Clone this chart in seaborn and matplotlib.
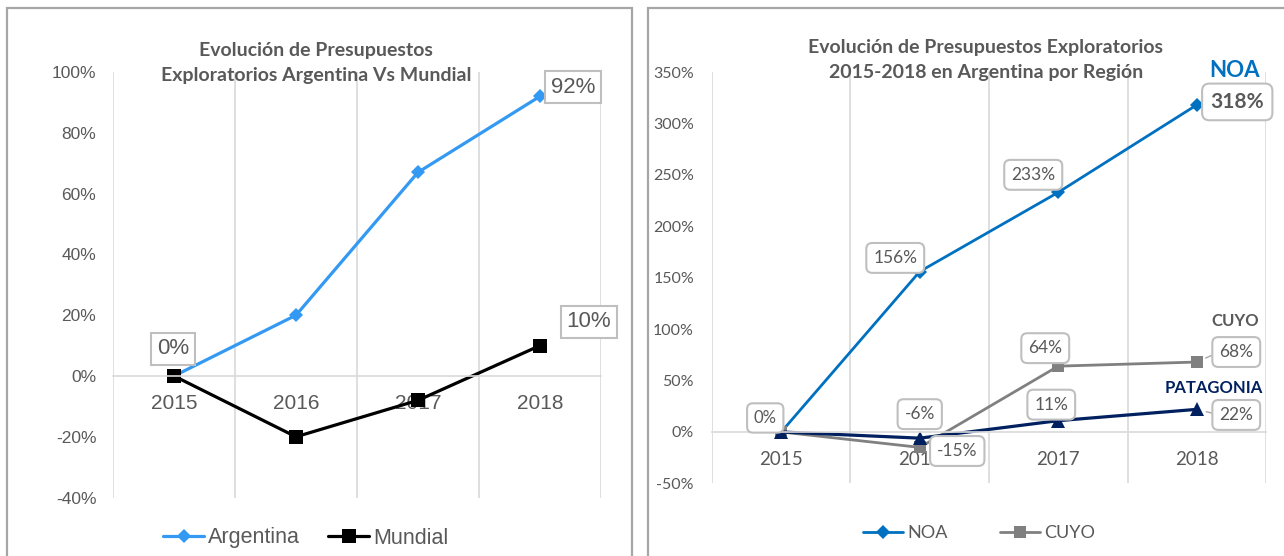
import matplotlib
matplotlib.use("Agg")
import matplotlib.pyplot as plt
from matplotlib.patches import Rectangle
from matplotlib.ticker import FuncFormatter
import seaborn as sns

# ---- data ----
years = ["2015", "2016", "2017", "2018"]

argentina = [0, 20, 67, 92]
mundial = [0, -20, -8, 10]

noa = [0, 156, 233, 318]
cuyo = [0, -15, 64, 68]
patagonia = [0, -6, 11, 22]

left_title = "Evolución de Presupuestos\nExploratorios Argentina Vs Mundial"
right_title = "Evolución de Presupuestos Exploratorios\n2015-2018 en Argentina por Región"

sns.set_theme(style="white")
plt.rcParams["font.family"] = ["Lato", "DejaVu Sans"]

W, H = 1284, 556
fig = plt.figure(figsize=(W / 100, H / 100), dpi=100)

GREY_TXT = "#595959"
GRID = "#D9D9D9"
BOX_EC = "#BFBFBF"


def rect(x0, y0, x1, y1):
    return [x0 / W, 1 - y1 / H, (x1 - x0) / W, (y1 - y0) / H]


# panel frames
for x0, x1 in [(7, 632), (648, 1300)]:
    fig.add_artist(Rectangle((x0 / W, -0.1), (x1 - x0) / W, 1.1 - 8 / H,
                             transform=fig.transFigure, fill=False,
                             ec="#A6A6A6", lw=1.6, zorder=0))


def style_axes(ax, ymin, ymax, ystep, tick_font, tick_size, xfont, xsize, xpad, ypad):
    ax.set_xlim(-0.5, 3.5)
    ax.set_ylim(ymin, ymax)
    ax.set_yticks(range(ymin, ymax + 1, ystep))
    ax.yaxis.set_major_formatter(FuncFormatter(lambda v, p: f"{v:.0f}%"))
    ax.set_xticks([-0.5, 0.5, 1.5, 2.5, 3.5], minor=True)
    ax.grid(False)
    ax.grid(True, axis="x", which="minor", color=GRID, lw=1.2)
    for s in ["left", "right", "top"]:
        ax.spines[s].set_visible(False)
    ax.spines["bottom"].set_position(("data", 0))
    ax.spines["bottom"].set_color(GRID)
    ax.spines["bottom"].set_linewidth(1.2)
    ax.tick_params(axis="both", which="both", length=0)
    ax.tick_params(axis="x", pad=xpad)
    ax.tick_params(axis="y", pad=ypad)
    for t in ax.get_yticklabels():
        t.set_fontfamily(tick_font)
        t.set_fontsize(tick_size)
        t.set_color(GREY_TXT)
    for t in ax.get_xticklabels():
        t.set_fontfamily(xfont)
        t.set_fontsize(xsize)
        t.set_color(GREY_TXT)
    ax.set_xlabel("")
    ax.set_ylabel("")
    ax.set_axisbelow(True)
    ax.patch.set_alpha(0)


def value_label(ax, x, y, text, dx, dy, size, family, weight="normal",
                rounded=True, leader=False):
    box = dict(boxstyle="round,pad=0.4,rounding_size=0.35" if rounded else "square,pad=0.25",
               fc="white", ec=BOX_EC, lw=1.5)
    arrow = None
    if leader:
        arrow = dict(arrowstyle="-", color="#A6A6A6", lw=1, shrinkA=0, shrinkB=7,
                     relpos=(0, 0.5))
    ax.annotate(text, xy=(x, y), xytext=(dx, dy), textcoords="offset pixels",
                ha="center", va="center", fontsize=size, family=family,
                weight=weight, color=GREY_TXT, bbox=box, arrowprops=arrow,
                zorder=10, annotation_clip=False)


# ---------------- left chart ----------------
axL = fig.add_axes(rect(113, 72, 601, 497.6))
sns.lineplot(x=years, y=argentina, ax=axL, color="#3399F3", lw=2.3,
             marker="D", markersize=7, markeredgewidth=0, sort=False)
sns.lineplot(x=years, y=mundial, ax=axL, color="black", lw=2.3,
             marker="s", markersize=9.5, markeredgewidth=0, sort=False)
style_axes(axL, -40, 100, 20, "Liberation Sans", 12.5, "Liberation Sans", 15, 13, 12)

fig.text(316 / W, 1 - 63 / H, left_title, ha="center", va="center", fontsize=14,
         weight="bold", color=GREY_TXT, linespacing=1.55, family="Lato")

LF = "Liberation Sans"
value_label(axL, years[0], argentina[0], "0%", -1, 27, 16, LF, rounded=False)
value_label(axL, years[3], argentina[3], "92%", 33, 9, 16, LF, rounded=False)
value_label(axL, years[3], mundial[3], "10%", 49, 24, 16, LF, rounded=False)

hl = axL.get_lines()[:2]
axL.legend(hl, ["Argentina", "Mundial"], loc="center",
           bbox_to_anchor=(306 / W, 1 - 538 / H), bbox_transform=fig.transFigure,
           ncol=2, frameon=False, handlelength=1.9, handletextpad=0.2,
           columnspacing=1.3, prop={"family": LF, "size": 15.5},
           labelcolor=GREY_TXT, borderpad=0)

# ---------------- right chart ----------------
axR = fig.add_axes(rect(712, 72, 1266, 483.4))
sns.lineplot(x=years, y=noa, ax=axR, color="#0070C0", lw=2.0,
             marker="D", markersize=7.5, markeredgewidth=0, sort=False)
sns.lineplot(x=years, y=cuyo, ax=axR, color="#808080", lw=2.0,
             marker="s", markersize=8.5, markeredgewidth=0, sort=False)
sns.lineplot(x=years, y=patagonia, ax=axR, color="#002060", lw=2.3,
             marker="^", markersize=10, markeredgewidth=0, sort=False)
style_axes(axR, -50, 350, 50, "Lato", 11.5, "Lato", 13.5, 14, 13)

fig.text(986 / W, 1 - 60 / H, right_title, ha="center", va="center", fontsize=14,
         weight="bold", color=GREY_TXT, linespacing=1.55, family="Lato")

value_label(axR, years[0], noa[0], "0%", -16, 14, 12, "Lato")
value_label(axR, years[1], noa[1], "156%", -24.5, 13.6, 12.5, "Lato")
value_label(axR, years[2], noa[2], "233%", -25, 17.5, 12.5, "Lato")
value_label(axR, years[3], noa[3], "318%", 40.5, 3, 15, "Lato", weight="bold")
value_label(axR, years[1], cuyo[1], "-15%", 37.5, -3.6, 12.5, "Lato")
value_label(axR, years[2], cuyo[2], "64%", -13, 18, 12.5, "Lato")
value_label(axR, years[3], cuyo[3], "68%", 39.5, 10, 12.5, "Lato", leader=True)
value_label(axR, years[1], patagonia[1], "-6%", 0, 24, 12.5, "Lato")
value_label(axR, years[2], patagonia[2], "11%", -7, 16, 12.5, "Lato")
value_label(axR, years[3], patagonia[3], "22%", 39.5, -5.6, 12.5, "Lato", leader=True)

# series names next to the last point
for vals, name, col, size, dx, dy in [
    (noa, "NOA", "#0070C0", 16, 37.5, 34),
    (cuyo, "CUYO", GREY_TXT, 12, 38.5, 41),
    (patagonia, "PATAGONIA", "#002060", 12, 17.5, 21.4),
]:
    axR.annotate(name, xy=(years[3], vals[3]), xytext=(dx, dy),
                 textcoords="offset pixels", ha="center", va="center",
                 fontsize=size, weight="bold", color=col, family="Lato",
                 zorder=10, annotation_clip=False)

hr = axR.get_lines()[:2]
axR.legend(hr, ["NOA", "CUYO"], loc="center",
           bbox_to_anchor=(979 / W, 1 - 533 / H), bbox_transform=fig.transFigure,
           ncol=2, frameon=False, handlelength=2.2, handletextpad=0.25,
           columnspacing=2.9, prop={"family": "Lato", "size": 13},
           labelcolor=GREY_TXT, borderpad=0)

fig.savefig("out.png", dpi=100, facecolor="white")
